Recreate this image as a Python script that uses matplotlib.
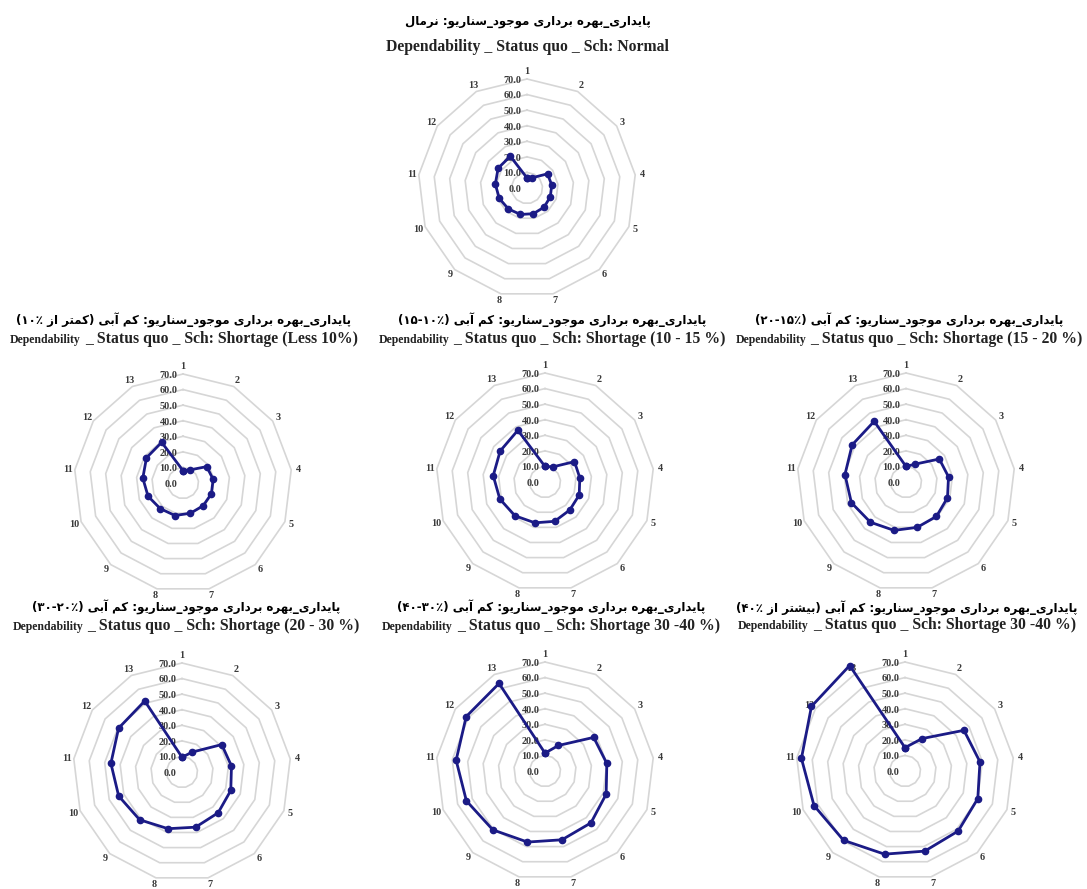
import re
import numpy as np
import matplotlib
matplotlib.use("Agg")
import matplotlib.pyplot as plt
from matplotlib.offsetbox import TextArea, HPacker, AnnotationBbox

W, H = 1087, 889

categories = [str(i) for i in range(1, 14)]
radial_ticks = [0, 10, 20, 30, 40, 50, 60, 70]

normal = [6.5, 7.5, 16, 16, 16, 16.5, 17, 17.5, 18, 19, 20.5, 22.5, 23]
less_10 = [8, 9.5, 18.5, 19.5, 19.5, 19.5, 20, 21.5, 22, 24, 26, 28.5, 29.5]
s10_15 = [10, 11, 23, 22.5, 23.5, 24, 26, 27, 29, 31, 33.5, 35, 37.5]
s15_20 = [10, 13, 26, 27.5, 28.5, 29.5, 30, 32, 34.5, 37.5, 39.5, 42, 44]
s20_30 = [9.5, 14.5, 31, 32, 33.5, 35, 36.5, 37.5, 41, 43.5, 46, 49.5, 51.5]
s30_40 = [11.5, 18.5, 38, 40, 42, 44.5, 45.5, 47, 50.5, 54, 57.5, 61.5, 63.5]
more_40 = [15, 23.5, 46, 48.5, 50, 51.5, 53, 55, 59.5, 62.5, 67, 73, 76.5]

fa_titles = [
    "پایداری_بهره برداری موجود_سناریو: نرمال",
    "پایداری_بهره برداری موجود_سناریو: کم آبی (کمتر از ۱۰٪)",
    "پایداری_بهره برداری موجود_سناریو: کم آبی (۱۵-۱۰٪)",
    "پایداری_بهره برداری موجود_سناریو: کم آبی (۲۰-۱۵٪)",
    "پایداری_بهره برداری موجود_سناریو: کم آبی (۳۰-۲۰٪)",
    "پایداری_بهره برداری موجود_سناریو: کم آبی (۴۰-۳۰٪)",
    "پایداری_بهره برداری موجود_سناریو: کم آبی (بیشتر از ۴۰٪)",
]
en_small = [None] + ["Dependability"] * 6
en_titles = [
    "Dependability _ Status quo _ Sch: Normal",
    "_ Status quo _ Sch: Shortage (Less 10%)",
    "_ Status quo _ Sch: Shortage (10 - 15 %)",
    "_ Status quo _ Sch: Shortage (15 - 20 %)",
    "_ Status quo _ Sch: Shortage (20 - 30 %)",
    "_ Status quo _ Sch: Shortage 30 -40 %)",
    "_ Status quo _ Sch: Shortage 30 -40 %)",
]
series = [normal, less_10, s10_15, s15_20, s20_30, s30_40, more_40]

# chart centres in pixels (x, y from top) and title rows
centers = [(527, 188), (183, 483), (545, 482), (906, 482),
           (182, 772), (545, 771), (905, 771)]
title_x = [528, 184, 552, 909, 186, 551, 907]
fa_y = [21, 320, 320, 320, 607, 607, 608]
en_y = [47, 339, 339, 339, 626, 626, 625]

R70 = 109  # pixels for the 70 ring

# minimal persian shaping (matplotlib has no text shaping)
FORMS = {
    "ا": ("\uFE8D", "\uFE8E", None, None),
    "آ": ("\uFE81", "\uFE82", None, None),
    "ب": ("\uFE8F", "\uFE90", "\uFE91", "\uFE92"),
    "پ": ("\uFB56", "\uFB57", "\uFB58", "\uFB59"),
    "ت": ("\uFE95", "\uFE96", "\uFE97", "\uFE98"),
    "ج": ("\uFE9D", "\uFE9E", "\uFE9F", "\uFEA0"),
    "د": ("\uFEA9", "\uFEAA", None, None),
    "ر": ("\uFEAD", "\uFEAE", None, None),
    "ز": ("\uFEAF", "\uFEB0", None, None),
    "س": ("\uFEB1", "\uFEB2", "\uFEB3", "\uFEB4"),
    "ش": ("\uFEB5", "\uFEB6", "\uFEB7", "\uFEB8"),
    "ل": ("\uFEDD", "\uFEDE", "\uFEDF", "\uFEE0"),
    "م": ("\uFEE1", "\uFEE2", "\uFEE3", "\uFEE4"),
    "ن": ("\uFEE5", "\uFEE6", "\uFEE7", "\uFEE8"),
    "ه": ("\uFEE9", "\uFEEA", "\uFEEB", "\uFEEC"),
    "و": ("\uFEED", "\uFEEE", None, None),
    "ی": ("\uFBFC", "\uFBFD", "\uFBFE", "\uFBFF"),
    "ک": ("\uFB8E", "\uFB8F", "\uFB90", "\uFB91"),
}
DUAL = set("پبتجسشلمنهیک")
RIGHT = set("اآدرزو")


def shape_fa(text):
    out = []
    for i, ch in enumerate(text):
        if ch not in FORMS:
            out.append(ch)
            continue
        prev = text[i - 1] if i > 0 else ""
        nxt = text[i + 1] if i + 1 < len(text) else ""
        join_prev = prev in DUAL
        join_next = ch in DUAL and (nxt in DUAL or nxt in RIGHT)
        iso, fin, ini, med = FORMS[ch]
        if join_prev and join_next:
            out.append(med)
        elif join_prev:
            out.append(fin)
        elif join_next:
            out.append(ini)
        else:
            out.append(iso)
    vis = "".join(out)[::-1]
    vis = vis.translate(str.maketrans("()", ")("))
    vis = re.sub(r"[۰-۹٪\-]+", lambda m: m.group(0)[::-1], vis)
    return vis


def radar(fig, cx, cy, values):
    half = R70 * 80 / 70
    rect = [(cx - half) / W, 1 - (cy + half) / H, 2 * half / W, 2 * half / H]
    ax = fig.add_axes(rect, projection="polar")
    ax.set_theta_zero_location("N")
    ax.set_theta_direction(-1)
    ax.set_ylim(0, 80)
    ax.axis("off")

    n = len(categories)
    angles = np.linspace(0, 2 * np.pi, n, endpoint=False)
    closed = np.append(angles, angles[0])

    for r in radial_ticks[1:]:
        ax.plot(closed, [r] * (n + 1), color="#d6d6d6", lw=1.2, zorder=1)

    for r in radial_ticks:
        ax.annotate(f"{r:.1f}", xy=(0, r), xytext=(-4, -1), textcoords="offset points",
                    ha="right", va="center", fontsize=7.3, fontweight="bold",
                    family="Liberation Serif", color="#3a3a3a", zorder=2)

    for a, lab in zip(angles, categories):
        ax.text(a, 74.5, lab, ha="center", va="center", fontsize=7.3,
                fontweight="bold", family="Liberation Serif", color="#3a3a3a")

    vals = list(values) + [values[0]]
    ax.plot(closed, vals, color="#1b1b86", lw=2, marker="o", markersize=4.5,
            clip_on=False, zorder=3)
    return ax


fig = plt.figure(figsize=(W / 100, H / 100), dpi=100)
fig.patch.set_facecolor("white")

for i, vals in enumerate(series):
    cx, cy = centers[i]
    radar(fig, cx, cy, vals)

    fig.text(title_x[i] / W, 1 - fa_y[i] / H, shape_fa(fa_titles[i]),
             ha="center", va="center", fontsize=8.5, fontweight="bold",
             family="DejaVu Sans", color="black")

    parts = []
    if en_small[i]:
        parts.append(TextArea(en_small[i], textprops=dict(
            family="Liberation Serif", weight="bold", size=8.5, color="#222222")))
    parts.append(TextArea(en_titles[i], textprops=dict(
        family="Liberation Serif", weight="bold", size=11.3, color="#222222")))
    box = HPacker(children=parts, align="baseline", pad=0, sep=3)
    ab = AnnotationBbox(box, (title_x[i] / W, 1 - en_y[i] / H), xycoords="figure fraction",
                        frameon=False, box_alignment=(0.5, 0.5), pad=0)
    fig.add_artist(ab)

fig.savefig("out.png", dpi=100, facecolor="white")
